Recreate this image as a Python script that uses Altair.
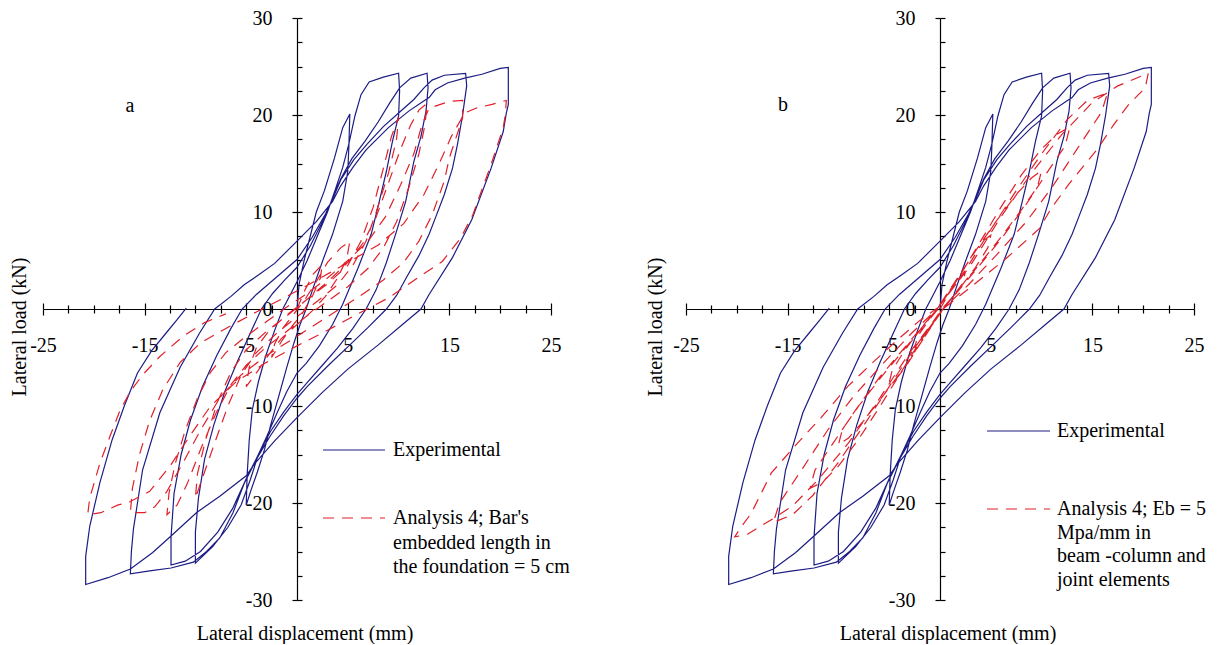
import altair as alt
import pandas as pd

W, H = 508, 582
FONT = "Liberation Serif, Times New Roman, Times, serif"
BLUE = "#1c1c84"
RED = "#e0202a"

X_TICKS = [-25, -22.5, -20, -17.5, -15, -12.5, -10, -7.5, -5, -2.5, 0,
           2.5, 5, 7.5, 10, 12.5, 15, 17.5, 20, 22.5, 25]
Y_TICKS = [-30, -27.5, -25, -22.5, -20, -17.5, -15, -12.5, -10, -7.5, -5, -2.5, 0,
           2.5, 5, 7.5, 10, 12.5, 15, 17.5, 20, 22.5, 25, 27.5, 30]
Y_MAJOR = [-30, -20, -10, 0, 10, 20, 30]

# Experimental curve (same in both panels), branch by branch (x mm, load kN)
exp_branches = [
    [(0, 0), (0.2, 2.5), (0.7, 5), (1.3, 7.5), (1.9, 10), (2.7, 12.2), (3.7, 15.6), (4.5, 18.7), (5.2, 20.1)],
    [(5.2, 20.1), (5.1, 16.6), (5.0, 14.2), (4.5, 11.1), (3.5, 7.7), (2.5, 4.9), (1.6, 2.2), (0.9, 0), (0.3, -1.6),
     (-0.3, -3.5), (-1.0, -6), (-1.8, -9), (-2.6, -12), (-3.2, -14.5), (-3.9, -16.8), (-4.5, -18.6), (-5.0, -20.2)],
    [(-5.0, -20.2), (-4.9, -17), (-4.7, -13.5), (-4.4, -10.4), (-3.8, -7.5), (-3.1, -4.9), (-2.2, -2.2), (-1.4, 0),
     (-0.7, 1.4), (0, 2.8), (1.0, 5.0), (2.0, 7.5), (3.0, 10.0), (3.8, 12.4), (4.5, 14.6), (5.1, 17.0), (5.7, 19.9),
     (6.3, 22.1), (7.1, 23.4), (8.5, 23.9), (10.0, 24.3)],
    [(10.0, 24.3), (10.1, 22.5), (10.0, 19.9), (9.4, 17.3), (8.8, 14.2), (8.1, 11.1), (7.3, 7.7), (6.0, 4.2), (4.5, 0.5),
     (3.5, -1.6), (2.2, -3.8), (0.9, -5.6), (0, -6.6), (-1.0, -8.5), (-2.0, -10.8), (-3.0, -13.2), (-3.8, -15.0),
     (-4.6, -17.6), (-5.5, -20.2), (-6.8, -22.5), (-8.3, -24.5), (-10.0, -26.2)],
    [(-10.0, -26.2), (-10.0, -23), (-9.7, -19.5), (-9.1, -15.5), (-8.2, -12), (-7.1, -8.5), (-5.9, -5.5), (-4.6, -2.5),
     (-3.5, 0), (-2.4, 1.6), (-1.2, 3.0), (0, 4.3), (1.3, 6.5), (2.5, 9.0), (3.5, 11.4), (4.3, 13.4), (5.4, 15.5),
     (6.7, 17.3), (8.0, 19.3), (9.1, 21.2), (10.1, 22.8), (11.2, 23.8), (12.8, 24.3)],
    [(12.8, 24.3), (12.9, 22.8), (12.7, 20.4), (12.2, 17.8), (11.5, 15.2), (10.7, 11.1), (9.7, 7.7), (8.8, 4.8),
     (7.8, 2.0), (6.8, 0), (5.5, -2.0), (4.0, -4.0), (2.5, -5.8), (1.0, -7.6), (0, -8.8), (-1.3, -10.6), (-2.6, -12.6),
     (-3.8, -15.0), (-5.0, -17.5), (-6.3, -20.5), (-7.8, -23.0), (-9.5, -25.0), (-11.0, -26.0), (-12.4, -26.4)],
    [(-12.4, -26.4), (-12.4, -23.5), (-12.1, -19.0), (-11.4, -15.0), (-10.5, -11.5), (-9.3, -8.0), (-7.9, -4.8),
     (-6.5, -2.0), (-5.4, 0), (-4.0, 1.5), (-2.0, 3.3), (0, 5.1), (1.5, 7.4), (2.8, 9.8), (3.7, 11.8), (4.3, 13.3),
     (5.6, 15.4), (6.9, 17.0), (8.5, 18.8), (10.0, 20.2), (11.5, 21.6), (12.5, 22.8), (13.3, 23.6), (14.5, 24.1),
     (16.6, 24.3)],
    [(16.6, 24.3), (16.7, 23.0), (16.5, 21.5), (16.3, 20.0), (15.8, 17.0), (15.3, 14.5), (14.5, 11.8), (13.7, 9.6),
     (13.0, 7.7), (12.0, 5.5), (10.8, 3.3), (9.8, 1.4), (8.8, 0), (7.0, -1.9), (5.0, -3.9), (3.0, -5.9), (1.0, -8.0),
     (0, -9.2), (-1.3, -11.0), (-2.7, -13.2), (-4.0, -15.5), (-5.2, -18.0), (-6.3, -21.0), (-7.6, -23.6),
     (-8.9, -25.0), (-10.2, -26.1), (-12.4, -26.7), (-14.5, -27.0), (-16.4, -27.3)],
    [(-16.4, -27.3), (-16.3, -25.0), (-16.1, -22.7), (-15.2, -16.6), (-13.5, -10.7), (-11.5, -6.0), (-9.6, -2.5),
     (-8.1, 0), (-6.5, 1.3), (-5.2, 2.5), (-3.8, 3.5), (-2.2, 4.7), (0, 7.0), (1.9, 9.0), (3.5, 11.1), (4.3, 12.7),
     (5.5, 14.6), (6.8, 16.4), (9.0, 18.7), (11.0, 20.4), (12.4, 21.4), (13.0, 21.8), (13.6, 22.6), (14.8, 23.3),
     (16.5, 23.8), (18.2, 24.2), (20.0, 24.8), (20.8, 24.9)],
    [(20.8, 24.9), (20.8, 21.1), (20.6, 20.2), (20.3, 18.3), (19.1, 14.5), (17.2, 9.2), (15.3, 5.3), (13.0, 1.5),
     (12.2, 0), (10.5, -1.5), (8.0, -3.7), (5.0, -6.2), (2.5, -8.6), (0, -11.2), (-2.2, -13.6), (-4.2, -16.0),
     (-5.0, -17.2), (-7.6, -19.3), (-9.9, -21.0), (-12.4, -23.4), (-14.2, -25.1), (-16.4, -26.8), (-18.6, -27.7),
     (-20.8, -28.4)],
    [(-20.8, -28.4), (-20.8, -25.5), (-20.4, -22.4), (-19.4, -17.9), (-18.2, -13.5), (-17.0, -10.0), (-15.7, -6.6),
     (-14.3, -4.3), (-12.9, -2.5), (-11.8, -1.1), (-10.9, 0.1)],
]

# Analysis 4, panel a (bar's embedded length in the foundation = 5 cm)
ana_a_branches = [
    [(0, 0), (0.8, 2.0), (1.6, 3.6), (2.5, 4.6)],
    [(2.5, 4.6), (2.3, 3.2), (1.5, 1.3), (0.5, -0.5), (-0.5, -1.8), (-1.5, -3.3), (-2.5, -5.0)],
    [(-2.5, -5.0), (-2.2, -3.6), (-1.4, -2.0), (-0.3, -0.5), (0.8, 1.0), (2.0, 3.0), (3.0, 4.8), (4.3, 6.3), (5.2, 7.0)],
    [(5.2, 7.0), (4.9, 5.2), (4.0, 3.2), (2.8, 1.3), (1.5, -0.2), (0, -1.6), (-1.5, -3.0), (-2.7, -4.6), (-3.8, -6.3),
     (-5.0, -8.0)],
    [(-5.0, -8.0), (-4.7, -6.0), (-4.0, -4.0), (-2.8, -2.3), (-1.0, -0.6), (1.0, 1.0), (3.0, 2.6), (5.0, 4.5),
     (6.3, 7.0), (7.5, 10.5), (8.5, 14.5), (9.3, 17.8), (10.0, 19.8)],
    [(10.0, 19.8), (9.8, 17.5), (9.0, 14.0), (7.8, 10.0), (6.8, 7.0), (5.5, 4.5), (4.0, 2.5), (2.0, 0.8), (0, -0.8),
     (-2.0, -2.5), (-4.0, -4.5), (-5.5, -6.8), (-6.8, -10), (-8.0, -13.5), (-9.0, -16.5), (-10.0, -19.5)],
    [(-10.0, -19.5), (-9.8, -17), (-9.0, -13.5), (-7.8, -9.5), (-6.5, -6.5), (-5.0, -4.2), (-3.0, -2.3), (-1.0, -0.7),
     (1.0, 1.0), (3.0, 2.8), (5.0, 4.8), (6.5, 6.8), (7.8, 9.5), (9.0, 13.0), (10.2, 16.5), (11.2, 19.0), (12.0, 20.5),
     (12.8, 21.2)],
    [(12.8, 21.2), (12.6, 19.0), (12.0, 16.0), (11.0, 12.5), (9.8, 9.0), (8.5, 6.3), (7.0, 4.2), (5.0, 2.3), (3.0, 0.8),
     (1.0, -0.7), (-1.0, -2.3), (-3.0, -3.9), (-5.0, -5.8), (-6.5, -7.8), (-8.0, -10.8), (-9.5, -14.5), (-10.8, -18.0),
     (-11.8, -20.2), (-12.8, -21.2)],
    [(-12.8, -21.2), (-12.6, -19.0), (-12.0, -16.0), (-11.0, -12.5), (-9.8, -9.2), (-8.5, -6.5), (-7.0, -4.5),
     (-5.0, -2.8), (-3.0, -1.3), (-1.0, 0.2), (1.0, 1.6), (3.0, 3.2), (5.0, 5.0), (7.0, 7.0), (8.7, 9.5), (10.2, 12.8),
     (11.5, 16.0), (12.3, 19.0), (13.0, 20.7), (15.0, 21.4), (16.3, 21.5)],
    [(16.3, 21.5), (16.3, 19.7), (15.0, 15.6), (14.5, 13.2), (13.3, 9.7), (12.0, 7.0), (10.5, 4.8), (8.5, 3.0),
     (6.0, 1.2), (3.0, -0.8), (0, -2.8), (-3.0, -4.8), (-5.5, -6.8), (-7.5, -9.0), (-9.5, -12.5), (-11.3, -16.0),
     (-12.8, -18.8), (-14.0, -20.4), (-15.0, -21.0), (-16.4, -21.0)],
    [(-16.4, -21.0), (-16.2, -18.5), (-15.5, -15.0), (-14.5, -11.5), (-13.2, -8.3), (-11.5, -5.5), (-9.5, -3.5),
     (-7.0, -2.0), (-4.0, -0.3), (-1.0, 1.3), (2.0, 3.0), (5.0, 4.8), (8.0, 6.6), (10.5, 8.8), (12.5, 11.8),
     (14.0, 15.0), (15.2, 17.8), (16.5, 20.2), (17.6, 20.7), (19.2, 21.1), (20.6, 21.5)],
    [(20.6, 21.5), (20.5, 20.0), (20.3, 18.7), (19.1, 14.9), (17.3, 9.7), (16.1, 7.3), (14.3, 4.9), (12.0, 3.3),
     (9.1, 1.2), (6.0, -0.5), (3.0, -2.2), (0, -3.8), (-3.0, -5.5), (-6.0, -7.5), (-8.5, -10.0), (-10.5, -13.0),
     (-12.5, -16.2), (-14.5, -18.8), (-16.5, -19.9), (-17.6, -20.2), (-19.3, -21.0), (-20.6, -21.2)],
    [(-20.6, -21.2), (-20.4, -19.5), (-19.4, -15.9), (-18.4, -13.1), (-17.4, -10.4), (-16.4, -8.5), (-15.2, -6.8),
     (-13.5, -4.9), (-11.2, -2.8), (-9.1, -1.4), (-7.0, -0.5)],
]

# Analysis 4, panel b (Eb = 5 MPa/mm in beam-column and joint elements)
ana_b_branches = [
    [(0, 0), (1.0, 1.8), (2.5, 3.8)],
    [(2.5, 3.8), (2.2, 2.6), (1.2, 1.2), (0.2, 0), (-0.8, -1.5), (-1.8, -3.0), (-2.5, -4.0)],
    [(-2.5, -4.0), (-2.2, -2.8), (-1.2, -1.3), (-0.2, 0), (0.8, 1.6), (2.0, 3.5), (3.2, 5.6), (4.2, 7.0), (5.0, 7.6)],
    [(5.0, 7.6), (4.7, 6.3), (3.5, 4.3), (2.0, 2.2), (0.3, 0), (-1.0, -2.0), (-2.2, -4.0), (-3.4, -6.0), (-4.3, -7.2),
     (-5.0, -7.6)],
    [(-5.0, -7.6), (-4.7, -6.3), (-3.5, -4.3), (-2.0, -2.2), (-0.3, 0), (1.6, 3.0), (3.5, 6.0), (5.5, 9.0), (7.5, 11.8),
     (9.0, 13.5), (10.0, 14.3)],
    [(10.0, 14.3), (9.6, 12.6), (8.0, 10.2), (6.0, 7.4), (3.8, 4.5), (1.8, 2.0), (0.3, 0), (-1.6, -3.0), (-3.5, -6.0),
     (-5.5, -8.8), (-7.5, -11.5), (-9.0, -13.3), (-10.0, -14.0)],
    [(-10.0, -14.0), (-9.6, -12.4), (-8.0, -10.0), (-6.0, -7.3), (-3.8, -4.5), (-1.8, -2.0), (-0.3, 0), (2.0, 3.5),
     (4.0, 7.0), (6.0, 10.5), (8.0, 13.8), (10.0, 16.5), (11.5, 18.0), (12.8, 18.8)],
    [(12.8, 18.8), (12.3, 16.8), (10.5, 14.0), (8.3, 10.5), (6.0, 7.2), (3.5, 4.0), (0.3, 0), (-2.0, -3.4), (-4.0, -6.8),
     (-6.0, -10.2), (-8.0, -13.4), (-10.0, -16.2), (-11.5, -17.8), (-12.8, -18.5)],
    [(-12.8, -18.5), (-12.3, -16.6), (-10.5, -13.8), (-8.3, -10.4), (-6.0, -7.1), (-3.5, -4.0), (-0.3, 0), (2.5, 4.0),
     (5.0, 8.2), (7.5, 12.2), (10.0, 16.0), (12.5, 19.5), (14.5, 21.5), (16.5, 22.3)],
    [(16.5, 22.3), (15.9, 20.3), (13.5, 16.5), (11.0, 12.5), (8.5, 9.0), (5.5, 5.5), (2.8, 2.5), (0.3, 0), (-2.5, -4.0),
     (-5.0, -8.0), (-7.5, -12.0), (-10.0, -15.8), (-12.5, -19.2), (-14.5, -21.2), (-16.4, -22.0)],
    [(-16.4, -22.0), (-15.8, -20.0), (-13.5, -16.4), (-11.0, -12.4), (-8.5, -9.0), (-5.5, -5.5), (-2.8, -2.5),
     (-0.3, 0), (3.0, 4.5), (6.0, 9.5), (9.0, 14.0), (12.0, 18.0), (15.0, 21.3), (17.5, 23.0), (20.5, 24.3)],
    [(20.5, 24.3), (20.2, 22.8), (18.5, 21.0), (17.1, 19.0), (15.5, 16.5), (12.7, 12.9), (10.9, 10.3), (9.8, 8.3),
     (6.5, 5.2), (3.2, 2.4), (0.3, 0), (-3.0, -4.5), (-6.0, -9.3), (-9.0, -13.8), (-12.0, -17.6), (-14.5, -20.3),
     (-16.4, -21.6), (-17.7, -22.4), (-18.9, -23.2), (-20.2, -23.5)],
    [(-20.2, -23.5), (-19.6, -22.5), (-18.6, -21.1), (-17.6, -19.0), (-16.6, -16.9), (-14.0, -13.8), (-11.7, -11.2),
     (-9.1, -8.0), (-6.5, -5.4), (-4.0, -3.0), (-2.0, -1.2), (0, 0.3)],
]

LEGEND_EXP = "Experimental"
LEGEND_A = ["Analysis 4; Bar's", "embedded length in", "the foundation = 5 cm"]
LEGEND_B = ["Analysis 4; Eb = 5", "Mpa/mm in", "beam -column and", "joint elements"]
X_TITLE = "Lateral displacement (mm)"
Y_TITLE = "Lateral load (kN)"


def to_df(branches):
    rows = []
    for br in branches:
        for j, (x, y) in enumerate(br):
            if rows and j == 0 and rows[-1]["x"] == x and rows[-1]["y"] == y:
                continue
            rows.append({"i": len(rows), "x": x, "y": y})
    return pd.DataFrame(rows)


MAJ_X = "abs(datum.value) % 10 == 5"
TS_X = {"condition": {"test": MAJ_X, "value": 6}, "value": 4}

ax_x_bottom = alt.Axis(orient="bottom", offset=-H / 2, values=X_TICKS, title=None, grid=False,
                       domainColor="black", domainWidth=1.2, tickColor="black", tickWidth=1.2,
                       tickSize=TS_X, labelExpr=f"{MAJ_X} ? '' + datum.value : ''",
                       labelFont=FONT, labelFontSize=20, labelColor="black", labelPadding=20,
                       labelOverlap=False, labelFlush=False)
ax_x_top = alt.Axis(orient="top", offset=-H / 2, values=X_TICKS, title=None, grid=False, domain=False,
                    labels=False, tickColor="black", tickWidth=1.2, tickSize=TS_X)
ax_y_left = alt.Axis(orient="left", offset=-W / 2, values=Y_MAJOR, title=None, grid=False,
                     domainColor="black", domainWidth=1.2, tickColor="black", tickWidth=1.2, tickSize=5,
                     labelExpr="'' + datum.value", labelFont=FONT, labelFontSize=20, labelColor="black",
                     labelPadding=20, labelOverlap=False, labelFlush=False)
ax_y_right = alt.Axis(orient="right", offset=-W / 2, values=Y_TICKS, title=None, grid=False, domain=False,
                      labels=False, tickColor="black", tickWidth=1.2, tickSize=5)

xs = alt.Scale(domain=[-25, 25], nice=False, zero=False)
ys = alt.Scale(domain=[-30, 30], nice=False, zero=False)


def txt(s, x, y, **kw):
    props = dict(font=FONT, fontSize=20, color="black", align="left", baseline="middle")
    props.update(kw)
    return alt.Chart(pd.DataFrame({"t": [s]})).mark_text(**props).encode(
        text="t:N", x=alt.value(x), y=alt.value(y))


def rule(x1, x2, y, color, dash=None):
    kw = dict(color=color, strokeWidth=1.2)
    if dash:
        kw["strokeDash"] = dash
    return alt.Chart(pd.DataFrame({"a": [0]})).mark_rule(**kw).encode(
        x=alt.value(x1), x2=alt.value(x2), y=alt.value(y))


def panel(ana_branches, letter, letter_pos, leg, ana_lines, ytitle_x):
    exp = alt.Chart(to_df(exp_branches)).mark_line(color=BLUE, strokeWidth=1.2).encode(
        x=alt.X("x:Q", scale=xs, axis=ax_x_bottom),
        y=alt.Y("y:Q", scale=ys, axis=ax_y_left),
        order="i:Q")
    ana = alt.Chart(to_df(ana_branches)).mark_line(color=RED, strokeWidth=1.2, strokeDash=[11, 8]).encode(
        x=alt.X("x:Q", scale=xs, axis=ax_x_top),
        y=alt.Y("y:Q", scale=ys, axis=ax_y_right),
        order="i:Q")
    lx1, lx2, tx, y_exp, y_ana, lh = leg
    layers = [exp, ana,
              txt(letter, letter_pos[0], letter_pos[1], align="center"),
              txt(Y_TITLE, ytitle_x, 309, angle=270, align="center"),
              txt(X_TITLE, W / 2 + 8, 616, align="center"),
              rule(lx1, lx2, y_exp, BLUE),
              txt(LEGEND_EXP, tx, y_exp),
              rule(lx1, lx2, y_ana, RED, [11, 8])]
    for k, line in enumerate(ana_lines):
        layers.append(txt(line, tx, y_ana + k * lh))
    return alt.layer(*layers).properties(width=W, height=H).resolve_axis(x="independent", y="independent")


pa = panel(ana_a_branches, "a", (87, 88), (280, 342, 350, 432, 500, 24.5), LEGEND_A, -23)
pb = panel(ana_b_branches, "b", (97, 87), (301, 364, 371, 413, 491, 23.7), LEGEND_B, -30)

chart = alt.hconcat(pa, pb, spacing=135, bounds="flush").configure_view(stroke=None).properties(
    padding={"left": 2, "top": 0, "right": 0, "bottom": 0})

chart.save("out.html", embed_options={"renderer": "svg", "actions": False})
